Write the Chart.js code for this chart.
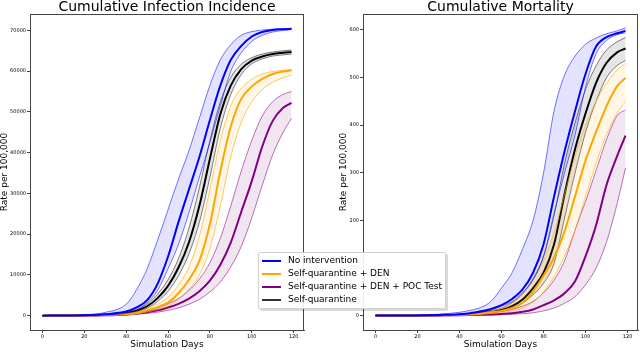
<!DOCTYPE html>
<html>
<head>
<meta charset="utf-8">
<script src="https://cdn.jsdelivr.net/npm/chart.js@4.4.1/dist/chart.umd.min.js"></script>
<style>
  body { margin: 0; background: #fff; font-family: "DejaVu Sans", sans-serif; }
  #wrap { position: relative; width: 640px; height: 352px; overflow: hidden; }
  .panel { position: absolute; top: 0; width: 320px; height: 352px; }
  #legend {
    position: absolute; left: 258px; top: 252px; width: 186px; height: 55px;
    background: rgba(255,255,255,0.9); border: 1px solid #d0d0d0; border-radius: 2px;
    box-shadow: 2px 2px 0 rgba(0,0,0,0.15); font-size: 9px; color: #000;
  }
  .item { position: absolute; left: 3px; height: 12px; line-height: 12px; white-space: nowrap; }
  .item span.sw { display: inline-block; width: 19px; height: 2px; vertical-align: middle; margin-right: 7px; }
</style>
</head>
<body>
<div id="wrap">
  <div class="panel" style="left:0"><canvas id="incChart" width="320" height="352"></canvas></div>
  <div class="panel" style="left:320px"><canvas id="morChart" width="320" height="352"></canvas></div>
  <div id="legend"></div>
</div>
<script>
const days = [0, 10, 20, 30, 40, 45, 50, 55, 60, 65, 70, 75, 80, 85, 90, 95, 100, 105, 110, 115, 119];

const seriesNames = ['No intervention', 'Self-quarantine + DEN', 'Self-quarantine + DEN + POC Test', 'Self-quarantine'];

// Cumulative infection incidence (mean, low, high)
const incNoneMean = [0, 20, 100, 350, 1000, 2000, 3800, 7800, 14500, 23000, 31000, 39000, 48000, 56500, 62800, 66200, 68500, 69600, 70100, 70300, 70400];
const incNoneLo   = [0, 15, 60, 200, 600, 1300, 3200, 6200, 11500, 17500, 25300, 34000, 42500, 51500, 60000, 64500, 67300, 68800, 69600, 70000, 70200];
const incNoneHi   = [0, 30, 200, 800, 2800, 6400, 11500, 18500, 26000, 33500, 40500, 48500, 56500, 62800, 66500, 68800, 69700, 70100, 70300, 70400, 70500];

const incDenMean = [0, 10, 40, 150, 400, 650, 1300, 2100, 3200, 5500, 8800, 13500, 22500, 35500, 46500, 53200, 56200, 58100, 59300, 59900, 60200];
const incDenLo   = [0, 5, 25, 100, 280, 450, 900, 1500, 2300, 4000, 6500, 10000, 16500, 27000, 39000, 47500, 52500, 55500, 57300, 58400, 59000];
const incDenHi   = [0, 15, 55, 200, 550, 950, 1700, 2900, 4500, 7500, 12000, 19500, 31000, 43000, 51500, 55800, 58000, 59300, 59900, 60200, 60400];

const incPocMean = [0, 5, 30, 100, 300, 500, 850, 1300, 2000, 2900, 4200, 6000, 8600, 12500, 18000, 25500, 33000, 41500, 47800, 51000, 52200];
const incPocLo   = [0, 3, 20, 70, 200, 330, 550, 850, 1300, 1900, 2800, 4000, 5800, 8300, 12000, 17000, 24000, 32000, 39500, 45000, 48400];
const incPocHi   = [0, 8, 45, 150, 450, 750, 1200, 1900, 2900, 4200, 6200, 9000, 13000, 19000, 27000, 35500, 43000, 49000, 52500, 54300, 55000];

const incSqMean = [0, 15, 60, 200, 600, 1200, 2300, 4300, 7300, 11800, 18000, 27000, 38500, 49500, 56500, 60500, 62600, 63600, 64200, 64500, 64700];
const incSqLo   = [0, 10, 45, 160, 480, 950, 1800, 3500, 6000, 9800, 15200, 23000, 34000, 46000, 54300, 59200, 61800, 63000, 63700, 64000, 64200];
const incSqHi   = [0, 20, 80, 250, 750, 1500, 2900, 5300, 8800, 14000, 21500, 31500, 43000, 52500, 58500, 61700, 63300, 64200, 64700, 65000, 65200];

// Cumulative mortality (mean, low, high)
const morNoneMean = [0, 0, 0.5, 1.5, 3, 5, 9, 14, 22, 35, 55, 90, 150, 250, 345, 430, 508, 565, 585, 593, 598];
const morNoneLo   = [0, 0, 0.3, 1, 2.5, 4, 7, 12, 20, 29, 48, 75, 125, 215, 300, 380, 480, 550, 578, 590, 594];
const morNoneHi   = [0, 0, 1, 3, 7, 11, 17, 30, 58, 90, 140, 200, 300, 430, 505, 545, 570, 583, 592, 598, 604];

const morDenMean = [0, 0, 0.2, 0.6, 1.5, 2.5, 4, 7, 10, 16, 27, 50, 84, 122, 177, 251, 326, 386, 440, 482, 499];
const morDenLo   = [0, 0, 0.1, 0.4, 1, 1.6, 2.5, 4.5, 7, 10, 16, 28, 50, 82, 125, 180, 250, 320, 380, 425, 450];
const morDenHi   = [0, 0, 0.3, 1, 2.5, 4, 6, 10, 16, 27, 45, 75, 115, 175, 255, 335, 400, 450, 488, 516, 530];

const morPocMean = [0, 0, 0.1, 0.3, 0.8, 1.2, 1.8, 2.5, 3.5, 5, 8, 13, 22, 32, 47, 72, 125, 190, 275, 335, 378];
const morPocLo   = [0, 0, 0, 0.1, 0.4, 0.7, 1, 1.5, 2, 3, 4, 6, 10, 16, 26, 40, 65, 100, 155, 235, 310];
const morPocHi   = [0, 0, 0.2, 0.6, 1.5, 2.5, 4, 6, 9, 13, 20, 30, 48, 75, 115, 180, 240, 305, 370, 420, 432];

const morSqMean = [0, 0, 0.3, 1, 2, 3.5, 5, 8, 12, 20, 34, 58, 90, 150, 255, 350, 425, 489, 531, 553, 561];
const morSqLo   = [0, 0, 0.2, 0.8, 1.5, 2.5, 4, 6, 9, 15, 26, 44, 68, 110, 205, 300, 385, 450, 500, 525, 536];
const morSqHi   = [0, 0, 0.4, 1.3, 2.7, 4.5, 6.5, 10, 16, 27, 46, 78, 125, 210, 320, 405, 475, 525, 558, 575, 584];

const dayTicks = [0, 20, 40, 60, 80, 100, 120];
const incTicks = [0, 10000, 20000, 30000, 40000, 50000, 60000, 70000];
const morTicks = [0, 100, 200, 300, 400, 500, 600];

// colours: main line, band edge, band fill
const styles = [
  { line: '#0000ff', edge: 'rgba(0,0,255,0.55)', fill: 'rgba(0,0,255,0.11)' },
  { line: '#ffa500', edge: 'rgba(255,165,0,0.6)', fill: 'rgba(255,165,0,0.1)' },
  { line: '#800080', edge: 'rgba(128,0,128,0.55)', fill: 'rgba(128,0,128,0.1)' },
  { line: '#000000', edge: 'rgba(0,0,0,0.5)', fill: 'rgba(0,0,0,0.1)' }
];

const FONT = '"DejaVu Sans", sans-serif';

function pts(values) {
  return values.map((v, i) => ({ x: days[i], y: v }));
}

function buildDatasets(groups) {
  let sets = [];
  groups.forEach((g, k) => {
    const st = styles[k];
    sets.push({ label: seriesNames[k] + ' low', data: pts(g[1]), borderColor: st.edge, borderWidth: 1, fill: false });
    sets.push({ label: seriesNames[k] + ' high', data: pts(g[2]), borderColor: st.edge, borderWidth: 1, fill: '-1', backgroundColor: st.fill });
    sets.push({ label: seriesNames[k], data: pts(g[0]), borderColor: st.line, borderWidth: 2, fill: false });
  });
  return sets;
}

// title, axis names and the frame round the plot
const panelText = {
  id: 'panelText',
  afterDraw(chart, args, opts) {
    const c = chart.ctx;
    const a = chart.chartArea;
    c.save();
    c.strokeStyle = '#444';
    c.lineWidth = 1;
    c.strokeRect(a.left + 0.5, a.top + 0.5, a.right - a.left - 1, a.bottom - a.top);
    c.fillStyle = '#000';
    c.textAlign = 'center';
    c.textBaseline = 'alphabetic';
    c.font = '14px ' + FONT;
    c.fillText(opts.title, (a.left + a.right) / 2, 11);
    c.font = '9px ' + FONT;
    c.textBaseline = 'middle';
    c.fillText(opts.xLabel, (a.left + a.right) / 2, 345);
    c.translate(opts.yLabelX, 172);
    c.rotate(-Math.PI / 2);
    c.fillText(opts.yLabel, 0, 0);
    c.restore();
  }
};

function makeChart(id, groups, yMin, yMax, yTicks, title, yWidth, padRight, yLabelX) {
  const ctx = document.getElementById(id).getContext('2d');
  return new Chart(ctx, {
    type: 'line',
    data: { datasets: buildDatasets(groups) },
    options: {
      responsive: false,
      animation: false,
      layout: { padding: { left: 0, right: padRight, top: 14, bottom: 0 } },
      elements: {
        point: { radius: 0 },
        line: { cubicInterpolationMode: 'monotone' }
      },
      scales: {
        x: {
          type: 'linear', min: -5.95, max: 124.95,
          afterBuildTicks: s => { s.ticks = dayTicks.map(v => ({ value: v })); },
          afterFit: s => { s.height = 22; },
          grid: { drawOnChartArea: false, drawTicks: true, tickLength: 3, color: '#444' },
          border: { display: true, color: '#444' },
          ticks: { font: { size: 5, family: FONT }, color: '#000', padding: 1, maxRotation: 0, autoSkip: false }
        },
        y: {
          type: 'linear', min: yMin, max: yMax,
          afterBuildTicks: s => { s.ticks = yTicks.map(v => ({ value: v })); },
          afterFit: s => { s.width = yWidth; },
          grid: { drawOnChartArea: false, drawTicks: true, tickLength: 3, color: '#444' },
          border: { display: true, color: '#444' },
          ticks: { font: { size: 5, family: FONT }, color: '#000', padding: 1, callback: v => String(v) }
        }
      },
      plugins: {
        legend: { display: false },
        tooltip: { enabled: false },
        panelText: { title: title, xLabel: 'Simulation Days', yLabel: 'Rate per 100,000', yLabelX: yLabelX }
      }
    },
    plugins: [panelText]
  });
}

makeChart('incChart', [
  [incNoneMean, incNoneLo, incNoneHi],
  [incDenMean, incDenLo, incDenHi],
  [incPocMean, incPocLo, incPocHi],
  [incSqMean, incSqLo, incSqHi]
], -3525, 74025, incTicks, 'Cumulative Infection Incidence', 30, 16, 5);

makeChart('morChart', [
  [morNoneMean, morNoneLo, morNoneHi],
  [morDenMean, morDenLo, morDenHi],
  [morPocMean, morPocLo, morPocHi],
  [morSqMean, morSqLo, morSqHi]
], -30.2, 633.5, morTicks, 'Cumulative Mortality', 43, 2, 24);

// legend box laid over both panels
const legend = document.getElementById('legend');
const legendColors = ['#0000ff', '#ffa500', '#800080', '#333333'];
seriesNames.forEach((name, i) => {
  const row = document.createElement('div');
  row.className = 'item';
  row.style.top = (1 + i * 13) + 'px';
  row.innerHTML = '<span class="sw" style="background:' + legendColors[i] + '"></span>' + name;
  legend.appendChild(row);
});
</script>
</body>
</html>
